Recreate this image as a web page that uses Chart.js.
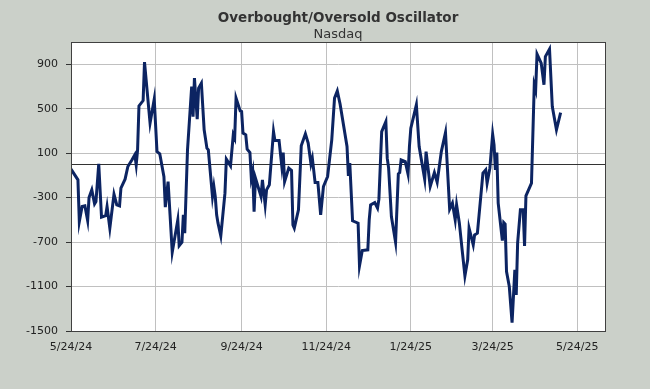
<!DOCTYPE html>
<html>
<head>
<meta charset="utf-8">
<script src="https://cdn.jsdelivr.net/npm/chart.js@4"></script>
<style>
html, body { margin: 0; padding: 0; background: #cbd0c9; }
</style>
</head>
<body>
<canvas id="oscChart" width="650" height="389"></canvas>
<script>
// Nasdaq overbought/oversold oscillator
const dates = [
    '2024-05-24','2024-05-29','2024-05-30','2024-06-01','2024-06-03','2024-06-05','2024-06-06','2024-06-08',
    '2024-06-10','2024-06-11','2024-06-13','2024-06-15','2024-06-18','2024-06-19','2024-06-21','2024-06-24',
    '2024-06-26','2024-06-28','2024-06-29','2024-07-02','2024-07-04','2024-07-07','2024-07-09','2024-07-10',
    '2024-07-11','2024-07-12','2024-07-15','2024-07-16','2024-07-20','2024-07-23','2024-07-25','2024-07-27',
    '2024-07-30','2024-07-31','2024-08-02','2024-08-05','2024-08-09','2024-08-10','2024-08-12','2024-08-13',
    '2024-08-14','2024-08-16','2024-08-19','2024-08-20','2024-08-21','2024-08-23','2024-08-24','2024-08-26',
    '2024-08-28','2024-08-30','2024-08-31','2024-09-03','2024-09-04','2024-09-05','2024-09-06','2024-09-07',
    '2024-09-09','2024-09-12','2024-09-13','2024-09-16','2024-09-18','2024-09-19','2024-09-20','2024-09-23',
    '2024-09-24','2024-09-25','2024-09-27','2024-09-28','2024-09-30','2024-10-01','2024-10-02','2024-10-03',
    '2024-10-04','2024-10-08','2024-10-09','2024-10-11','2024-10-12','2024-10-14','2024-10-17','2024-10-18',
    '2024-10-21','2024-10-23','2024-10-24','2024-10-25','2024-10-28','2024-10-30','2024-10-31','2024-11-01',
    '2024-11-04','2024-11-06','2024-11-09','2024-11-11','2024-11-13','2024-11-14','2024-11-16','2024-11-18',
    '2024-11-20','2024-11-22','2024-11-25','2024-11-28','2024-11-30','2024-12-02','2024-12-04','2024-12-09',
    '2024-12-10','2024-12-11','2024-12-13','2024-12-17','2024-12-18','2024-12-20','2024-12-24','2024-12-25',
    '2024-12-26','2024-12-29','2024-12-31','2025-01-01','2025-01-03','2025-01-06','2025-01-07','2025-01-08',
    '2025-01-10','2025-01-13','2025-01-15','2025-01-16','2025-01-17','2025-01-20','2025-01-22','2025-01-23',
    '2025-01-24','2025-01-28','2025-01-30','2025-02-03','2025-02-04','2025-02-07','2025-02-10','2025-02-12',
    '2025-02-15','2025-02-18','2025-02-19','2025-02-21','2025-02-23','2025-02-25','2025-02-26','2025-02-28',
    '2025-03-02','2025-03-04','2025-03-06','2025-03-07','2025-03-10','2025-03-11','2025-03-13','2025-03-17',
    '2025-03-19','2025-03-20','2025-03-22','2025-03-24','2025-03-25','2025-03-26','2025-03-27','2025-03-28',
    '2025-03-31','2025-04-01','2025-04-02','2025-04-03','2025-04-05','2025-04-07','2025-04-09','2025-04-10',
    '2025-04-11','2025-04-13','2025-04-15','2025-04-16','2025-04-17','2025-04-21','2025-04-23','2025-04-24',
    '2025-04-25','2025-04-28','2025-04-30','2025-05-01','2025-05-04','2025-05-06','2025-05-09','2025-05-12'
];
const values = [
    -44, -140, -516, -380, -374, -507, -300, -230,
    -356, -335, 4, -476, -462, -380, -575, -269,
    -365, -374, -215, -134, -20, 40, 85, -5,
    130, 525, 573, 919, 370, 586, 114, 94,
    -111, -386, -156, -791, -500, -732, -701, -455,
    -620, 130, 699, 429, 775, 406, 685, 730,
    310, 145, 130, -290, -200, -290, -455, -530,
    -644, -260, 46, -14, 265, 235, 595, 480,
    474, 280, 265, 136, 106, -125, -66, -426,
    -125, -290, -140, -365, -230, -185, 294, 213,
    213, -20, 106, -156, -35, -56, -545, -575,
    -410, 166, 274, 190, 4, 55, -165, -165,
    -455, -200, -110, 220, 595, 660, 543, 160,
    -104, 10, -509, -530, -914, -776, -770, -500,
    -365, -345, -395, -314, 294, 384, 55, -35,
    -470, -701, -86, -75, 40, 24, -89, 160,
    325, 535, 160, -134, 114, -200, -75, -161,
    114, 285, 55, -404, -350, -500, -365, -530,
    -770, -1004, -860, -575, -725, -635, -620, -80,
    -50, -170, -35, 271, 175, -50, 105, -350,
    -686, -525, -539, -965, -1100, -1424, -950, -1175,
    -710, -410, -410, -734, -284, -170, 715, 670,
    991, 910, 715, 969, 1036, 519, 310, 465
];
const xTickDates = ['2024-05-24', '2024-07-24', '2024-09-24', '2024-11-24', '2025-01-24', '2025-03-24', '2025-05-24'];
const xRange = ['2024-05-24', '2025-06-13'];
const yTicks = [-1500, -1100, -700, -300, 100, 500, 900];
const yRange = [-1500, 1100];

const dayNum = (iso) => Date.parse(iso) / 86400000;
const fmtDate = (day) => {
    const d = new Date(day * 86400000);
    return (d.getUTCMonth() + 1) + '/' + d.getUTCDate() + '/' + String(d.getUTCFullYear()).slice(2);
};

const bgColor = '#cbd0c9';
const font = 'DejaVu Sans';

// page background, white plot area, zero line and frame
const framePlugin = {
    id: 'frame',
    beforeDraw(chart) {
        const { ctx, chartArea: a } = chart;
        ctx.save();
        ctx.fillStyle = bgColor;
        ctx.fillRect(0, 0, chart.width, chart.height);
        ctx.fillStyle = '#ffffff';
        ctx.fillRect(a.left, a.top, a.right - a.left, a.bottom - a.top);
        ctx.restore();
    },
    beforeDatasetsDraw(chart) {
        const { ctx, chartArea: a, scales } = chart;
        const y0 = Math.round(scales.y.getPixelForValue(0)) + 0.5;
        ctx.save();
        ctx.strokeStyle = '#333333';
        ctx.lineWidth = 1;
        ctx.beginPath();
        ctx.moveTo(a.left, y0);
        ctx.lineTo(a.right, y0);
        ctx.stroke();
        ctx.restore();
    },
    afterDraw(chart) {
        const { ctx, chartArea: a } = chart;
        ctx.save();
        ctx.strokeStyle = '#404040';
        ctx.lineWidth = 1;
        ctx.strokeRect(Math.round(a.left) + 0.5, Math.round(a.top) + 0.5,
            Math.round(a.right - a.left), Math.round(a.bottom - a.top));
        ctx.restore();
    }
};

const ctx = document.getElementById('oscChart').getContext('2d');
new Chart(ctx, {
    type: 'line',
    data: {
        datasets: [{
            label: 'Nasdaq',
            data: dates.map((d, i) => ({ x: dayNum(d), y: values[i] })),
            borderColor: '#0c2462',
            borderWidth: 3,
            pointRadius: 0,
            tension: 0,
            fill: false
        }]
    },
    options: {
        responsive: false,
        animation: false,
        layout: { padding: { left: 0, right: 45, top: 0, bottom: 0 } },
        plugins: {
            legend: { display: false },
            tooltip: { enabled: false },
            title: {
                display: true,
                text: 'Overbought/Oversold Oscillator',
                fullSize: false,
                color: '#333333',
                font: { family: font, size: 13.5, weight: 'bold', lineHeight: 1.2 },
                padding: { top: 10.5, bottom: 1 }
            },
            subtitle: {
                display: true,
                text: 'Nasdaq',
                fullSize: false,
                color: '#333333',
                font: { family: font, size: 13, lineHeight: 1.1 },
                padding: { top: 0, bottom: 0 }
            }
        },
        scales: {
            x: {
                type: 'linear',
                min: dayNum(xRange[0]),
                max: dayNum(xRange[1]),
                afterBuildTicks: (axis) => { axis.ticks = xTickDates.map(d => ({ value: dayNum(d) })); },
                afterFit: (axis) => { axis.height = 58; },
                ticks: {
                    callback: (v) => fmtDate(v),
                    color: '#222222',
                    font: { family: font, size: 11 },
                    padding: 10,
                    maxRotation: 0,
                    autoSkip: false
                },
                grid: { color: '#c0c0c0', drawTicks: false },
                border: { color: '#333333' }
            },
            y: {
                min: yRange[0],
                max: yRange[1],
                afterBuildTicks: (axis) => { axis.ticks = yTicks.map(v => ({ value: v })); },
                afterFit: (axis) => { axis.width = 71; },
                ticks: {
                    callback: (v) => String(v),
                    color: '#222222',
                    font: { family: font, size: 11 },
                    padding: 8
                },
                grid: { color: '#c0c0c0', tickColor: '#333333', tickLength: 5 },
                border: { color: '#333333' }
            }
        }
    },
    plugins: [framePlugin]
});
</script>
</body>
</html>
